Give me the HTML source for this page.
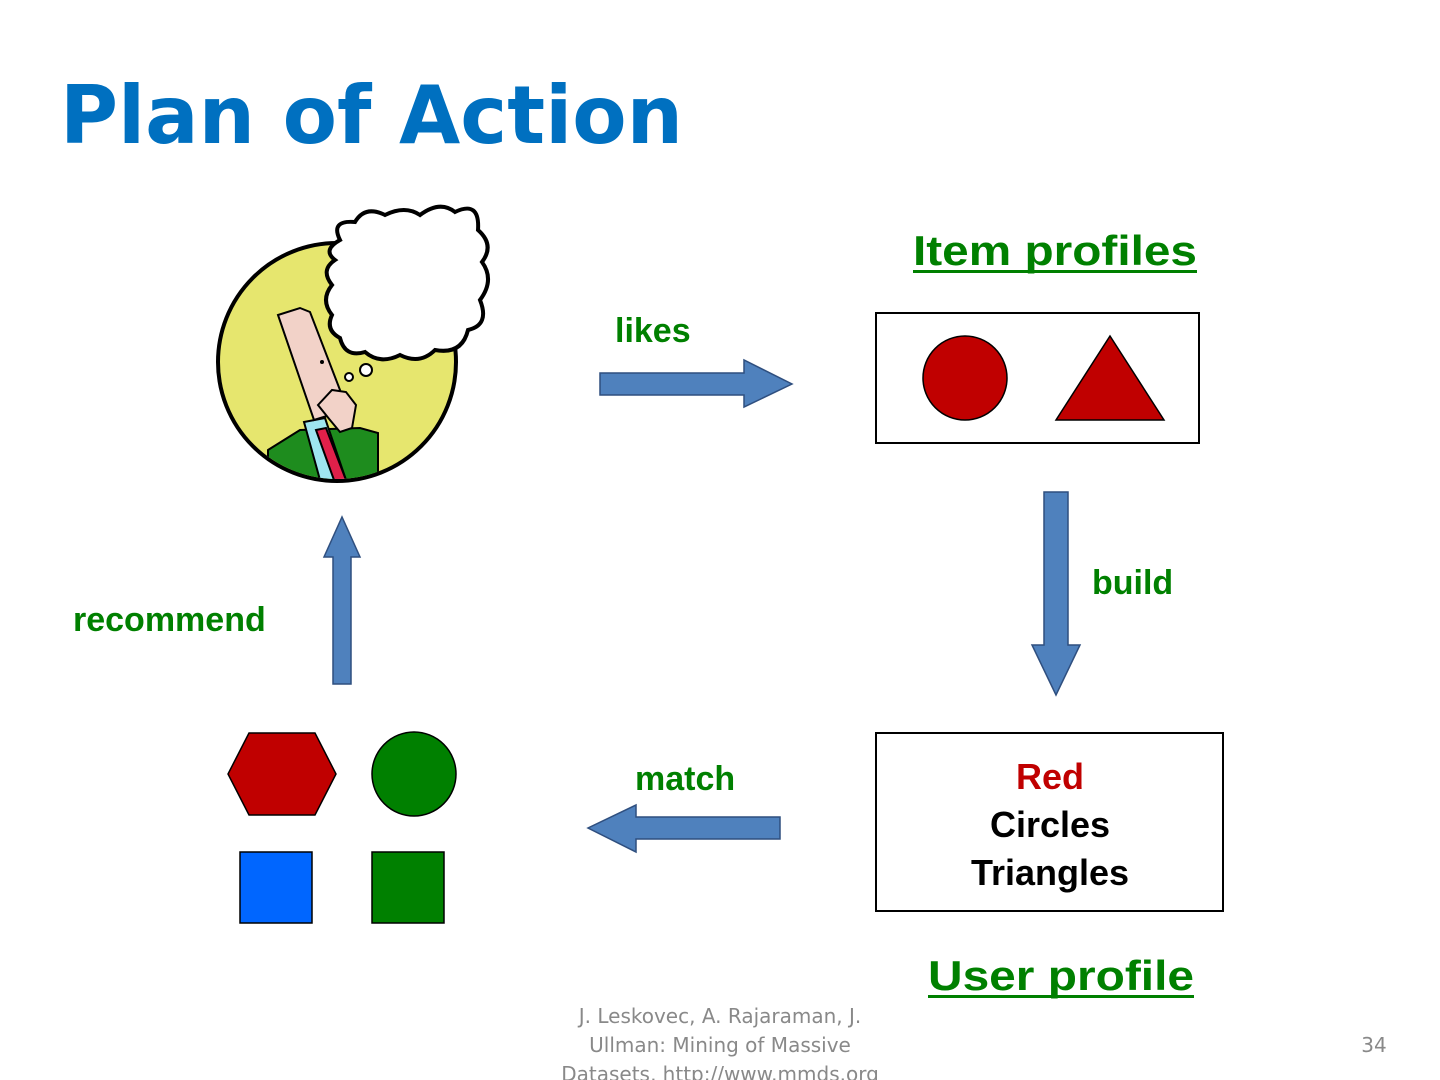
<!DOCTYPE html>
<html><head><meta charset="utf-8"><style>html,body{margin:0;padding:0;background:#fff}svg{display:block}</style></head>
<body>
<svg width="1440" height="1080" viewBox="0 0 1440 1080" xmlns="http://www.w3.org/2000/svg">
<text x="60" y="143" font-family="DejaVu Sans, sans-serif" font-weight="bold" font-size="80" fill="#0070C0" textLength="623" lengthAdjust="spacingAndGlyphs">Plan of Action</text>

<!-- person -->
<circle cx="337" cy="362" r="119" fill="#E6E66E" stroke="#000" stroke-width="4"/>
<clipPath id="cc"><circle cx="337" cy="362" r="117"/></clipPath>
<g clip-path="url(#cc)" stroke="#000" stroke-width="2">
<polygon points="268,450 300,430 360,428 378,433 378,480 268,480" fill="#1E8C1E"/>
<polygon points="304,422 325,418 346,480 320,480" fill="#9EE6F0"/>
<polygon points="316,430 326,428 346,480 334,480" fill="#E0204A"/>
<polygon points="278,315 300,308 310,312 340,390 330,415 314,420" fill="#F2D2C8"/>
<polygon points="318,405 332,390 346,392 356,405 352,428 340,432 330,420" fill="#F2D2C8"/>
</g>
<circle cx="322" cy="362" r="2" fill="#000"/>
<circle cx="349" cy="377" r="4" fill="#fff" stroke="#000" stroke-width="2"/>
<circle cx="366" cy="370" r="6" fill="#fff" stroke="#000" stroke-width="2"/>
<path d="M340,240 Q330,220 355,222 Q365,205 385,215 Q405,205 420,215 Q440,200 455,212 Q480,200 478,230 Q495,245 482,262 Q495,280 480,300 Q490,325 468,330 Q462,355 435,350 Q420,365 400,355 Q380,365 365,352 Q345,358 340,338 Q325,330 332,315 Q320,300 332,285 Q320,270 335,260 Q322,250 340,240 Z" fill="#fff" stroke="#000" stroke-width="4"/>

<!-- likes arrow -->
<polygon points="600,373 744,373 744,360 792,384 744,407 744,395 600,395" fill="#4F81BD" stroke="#2F4F7F" stroke-width="1.5"/>
<text x="615" y="342" font-family="Liberation Sans, sans-serif" font-weight="bold" font-size="34" fill="#008000">likes</text>

<text x="913" y="265" font-family="Liberation Sans, sans-serif" font-weight="bold" font-size="42" fill="#008000" textLength="284" lengthAdjust="spacingAndGlyphs">Item profiles</text>
<rect x="913" y="270" width="284" height="3" fill="#008000"/>
<rect x="876" y="313" width="323" height="130" fill="#fff" stroke="#000" stroke-width="2"/>
<circle cx="965" cy="378" r="42" fill="#C00000" stroke="#000" stroke-width="1.5"/>
<polygon points="1110,336 1164,420 1056,420" fill="#C00000" stroke="#000" stroke-width="1.5"/>

<!-- build arrow -->
<polygon points="1044,492 1068,492 1068,645 1080,645 1056,695 1032,645 1044,645" fill="#4F81BD" stroke="#2F4F7F" stroke-width="1.5"/>
<text x="1092" y="594" font-family="Liberation Sans, sans-serif" font-weight="bold" font-size="34" fill="#008000">build</text>

<rect x="876" y="733" width="347" height="178" fill="#fff" stroke="#000" stroke-width="2"/>
<g font-family="Liberation Sans, sans-serif" font-weight="bold" font-size="36" text-anchor="middle">
<text x="1050" y="789" fill="#C00000">Red</text>
<text x="1050" y="837" fill="#000">Circles</text>
<text x="1050" y="885" fill="#000">Triangles</text>
</g>
<text x="928" y="990" font-family="Liberation Sans, sans-serif" font-weight="bold" font-size="42" fill="#008000" textLength="266" lengthAdjust="spacingAndGlyphs">User profile</text>
<rect x="928" y="995" width="266" height="3" fill="#008000"/>

<!-- match arrow -->
<polygon points="780,817 636,817 636,805 588,828 636,852 636,839 780,839" fill="#4F81BD" stroke="#2F4F7F" stroke-width="1.5"/>
<text x="635" y="790" font-family="Liberation Sans, sans-serif" font-weight="bold" font-size="34" fill="#008000">match</text>

<!-- recommend arrow -->
<polygon points="333,684 351,684 351,557 360,557 342,517 324,557 333,557" fill="#4F81BD" stroke="#2F4F7F" stroke-width="1.5"/>
<text x="73" y="631" font-family="Liberation Sans, sans-serif" font-weight="bold" font-size="34" fill="#008000">recommend</text>

<polygon points="249,733 315,733 336,774 315,815 249,815 228,774" fill="#C00000" stroke="#000" stroke-width="1.5"/>
<circle cx="414" cy="774" r="42" fill="#008000" stroke="#000" stroke-width="1.5"/>
<rect x="240" y="852" width="72" height="71" fill="#0066FF" stroke="#000" stroke-width="1.5"/>
<rect x="372" y="852" width="72" height="71" fill="#008000" stroke="#000" stroke-width="1.5"/>

<g font-family="DejaVu Sans, sans-serif" font-size="20" fill="#898989" text-anchor="middle">
<text x="720" y="1023">J. Leskovec, A. Rajaraman, J.</text>
<text x="720" y="1052">Ullman: Mining of Massive</text>
<text x="720" y="1081">Datasets, http://www.mmds.org</text>
<text x="1374" y="1052">34</text>
</g>
</svg>
</body></html>
